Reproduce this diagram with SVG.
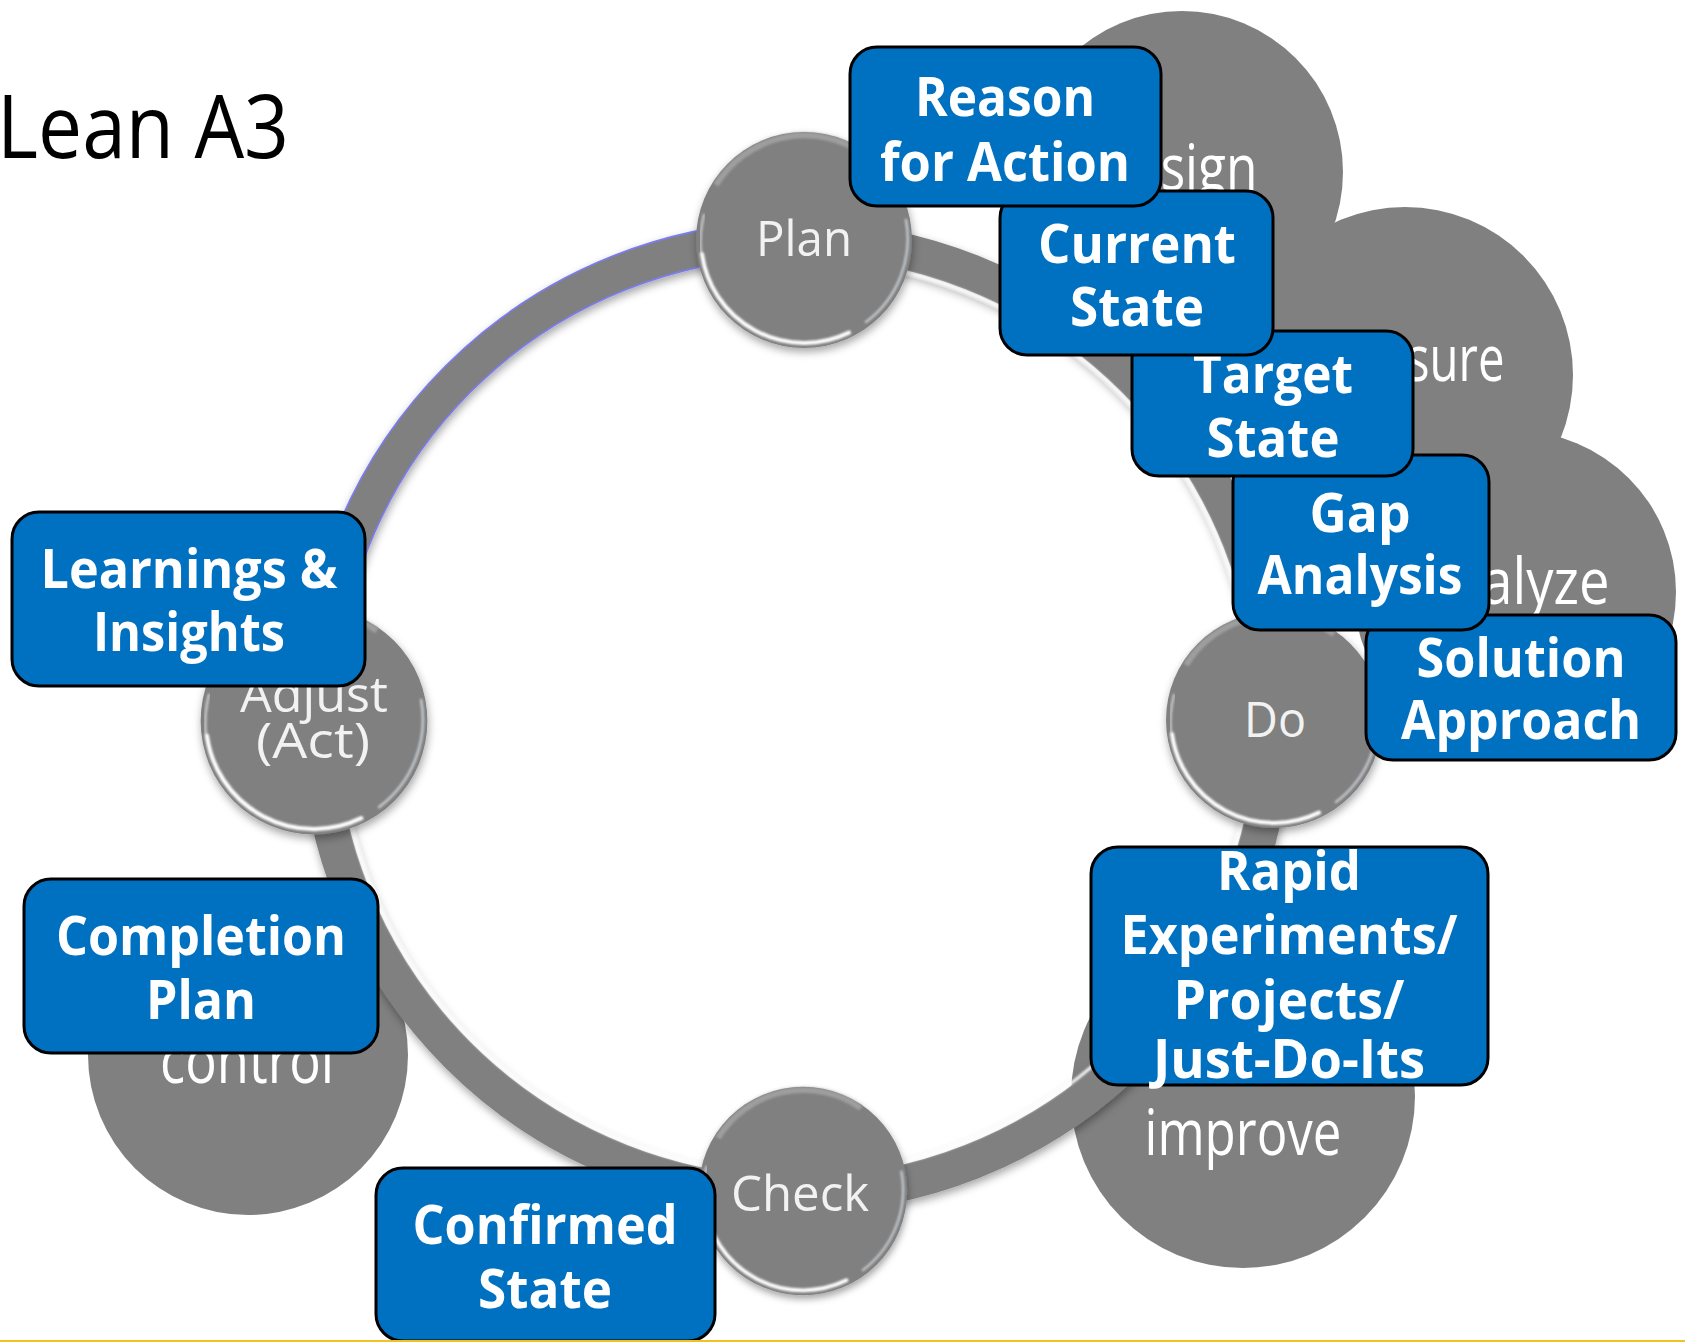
<svg xmlns="http://www.w3.org/2000/svg" width="1685" height="1342" viewBox="0 0 1685 1342">
  <defs>
    <style>
      .cloud { fill: #808080; }
      .cloud-text { font-family: "Open Sans", "Noto Sans", sans-serif; font-size: 64px; fill: #ffffff; text-anchor: middle; }
      .bead-text { font-family: "Open Sans", "Noto Sans", sans-serif; font-size: 49px; fill: #f2f2f2; text-anchor: middle; }
      .box { fill: #0070c0; stroke: #000000; stroke-width: 3; }
      .box-text { font-family: "Open Sans", "Noto Sans", sans-serif; font-weight: bold; font-size: 54px; fill: #ffffff; text-anchor: middle; }
      .title { font-family: "Open Sans", "Noto Sans", sans-serif; font-size: 88px; fill: #000000; }
      .ring { fill: none; stroke: #808080; stroke-width: 36; }
      .ring-hi { fill: none; stroke: #ffffff; stroke-width: 3; opacity: 0.9; }
      .ring-edge { fill: none; stroke: #7b7bf0; stroke-width: 1.6; }
    </style>
    <filter id="softShadow" x="-20%" y="-20%" width="140%" height="140%">
      <feDropShadow dx="1" dy="4" stdDeviation="4" flood-color="#000000" flood-opacity="0.35"/>
    </filter>
    <filter id="blur1" x="-10%" y="-10%" width="120%" height="120%">
      <feGaussianBlur stdDeviation="1"/>
    </filter>
    <!-- bevelled stage bead, radius 108 around the origin -->
    <g id="bead">
      <circle r="108" fill="#808080" filter="url(#softShadow)"/>
      <path d="M -88 -55 A 104 104 0 0 1 60 -86" fill="none" stroke="#a6a6a6" stroke-width="6" opacity="0.8" filter="url(#blur1)"/>
      <path d="M -100 -25 A 103 103 0 0 0 -103 12" fill="none" stroke="#ffffff" stroke-width="2.5" stroke-linecap="round" opacity="0.55" filter="url(#blur1)"/>
      <path d="M -102 14 A 103 103 0 0 0 45 92.6" fill="none" stroke="#ffffff" stroke-width="4" stroke-linecap="round" filter="url(#blur1)"/>
      <path d="M 62 82 A 104 104 0 0 0 102 -20" fill="none" stroke="#e6eef6" stroke-width="2.5" stroke-linecap="round" opacity="0.65" filter="url(#blur1)"/>
    </g>
  </defs>

  <rect width="1685" height="1342" fill="#ffffff"/>

  <!-- phase clouds behind the cycle -->
  <g id="cloud-design">
    <circle class="cloud" cx="1182" cy="172" r="161"/>
    <text class="cloud-text" x="1176" y="190" textLength="163" lengthAdjust="spacingAndGlyphs">Design</text>
  </g>
  <g id="cloud-measure">
    <circle class="cloud" cx="1405" cy="375" r="168"/>
    <text class="cloud-text" x="1408" y="381" textLength="193" lengthAdjust="spacingAndGlyphs">Measure</text>
  </g>
  <g id="cloud-analyze">
    <circle class="cloud" cx="1515" cy="592" r="161"/>
    <text class="cloud-text" x="1512" y="604" textLength="195" lengthAdjust="spacingAndGlyphs">Analyze</text>
  </g>
  <g id="cloud-improve">
    <circle class="cloud" cx="1243" cy="1096" r="172"/>
    <text class="cloud-text" x="1243" y="1155" textLength="197" lengthAdjust="spacingAndGlyphs">improve</text>
  </g>
  <g id="cloud-control">
    <circle class="cloud" cx="248" cy="1055" r="160"/>
    <text class="cloud-text" x="247" y="1083" textLength="174" lengthAdjust="spacingAndGlyphs">control</text>
  </g>

  <!-- the cycle ring joining the four stages -->
  <g id="connectors" filter="url(#softShadow)">
    <circle class="ring" cx="796" cy="717" r="478"/>
    <path class="ring-hi" d="M 796 259 A 458 458 0 1 1 338 717" filter="url(#blur1)"/>
    <path class="ring-edge" d="M 300 717 A 496 496 0 0 1 796 221"/>
    <path class="ring-edge" d="M 336 717 A 460 460 0 0 1 796 257"/>
  </g>

  <!-- stages -->
  <g id="stage-plan">
    <use href="#bead" transform="translate(804 240)"/>
    <text class="bead-text" x="804" y="256" textLength="96" lengthAdjust="spacingAndGlyphs">Plan</text>
  </g>
  <g id="stage-do">
    <use href="#bead" transform="translate(1274 720)"/>
    <text class="bead-text" x="1275" y="737" textLength="62" lengthAdjust="spacingAndGlyphs">Do</text>
  </g>
  <g id="stage-check">
    <use href="#bead" transform="translate(803 1191) scale(0.965)"/>
    <text class="bead-text" x="800" y="1211" textLength="138" lengthAdjust="spacingAndGlyphs">Check</text>
  </g>
  <g id="stage-adjust">
    <use href="#bead" transform="translate(314 721) scale(1.05)"/>
    <text class="bead-text" x="314" y="712" textLength="148" lengthAdjust="spacingAndGlyphs">Adjust</text>
    <text class="bead-text" x="313" y="758" textLength="114" lengthAdjust="spacingAndGlyphs">(Act)</text>
  </g>

  <!-- A3 sections, stacked so earlier steps sit on top -->
  <g id="box-solution-approach">
    <rect class="box" x="1366" y="615" width="310" height="145" rx="27"/>
    <text class="box-text" x="1521" y="677" textLength="209" lengthAdjust="spacingAndGlyphs">Solution</text>
    <text class="box-text" x="1521" y="739" textLength="240" lengthAdjust="spacingAndGlyphs">Approach</text>
  </g>
  <g id="box-gap-analysis">
    <rect class="box" x="1233" y="455" width="256" height="175" rx="27"/>
    <text class="box-text" x="1360" y="532" textLength="101" lengthAdjust="spacingAndGlyphs">Gap</text>
    <text class="box-text" x="1360" y="594" textLength="205" lengthAdjust="spacingAndGlyphs">Analysis</text>
  </g>
  <g id="box-target-state">
    <rect class="box" x="1132" y="331" width="281" height="145" rx="27"/>
    <text class="box-text" x="1273" y="393" textLength="160" lengthAdjust="spacingAndGlyphs">Target</text>
    <text class="box-text" x="1273" y="457" textLength="133" lengthAdjust="spacingAndGlyphs">State</text>
  </g>
  <g id="box-current-state">
    <rect class="box" x="1000" y="191" width="273" height="164" rx="27"/>
    <text class="box-text" x="1137" y="263" textLength="198" lengthAdjust="spacingAndGlyphs">Current</text>
    <text class="box-text" x="1137" y="326" textLength="134" lengthAdjust="spacingAndGlyphs">State</text>
  </g>
  <g id="box-reason-for-action">
    <rect class="box" x="850" y="47" width="311" height="159" rx="27"/>
    <text class="box-text" x="1005" y="116" textLength="180" lengthAdjust="spacingAndGlyphs">Reason</text>
    <text class="box-text" x="1005" y="181" textLength="250" lengthAdjust="spacingAndGlyphs">for Action</text>
  </g>
  <g id="box-rapid-experiments">
    <rect class="box" x="1091" y="847" width="397" height="238" rx="27"/>
    <text class="box-text" x="1289" y="890" textLength="144" lengthAdjust="spacingAndGlyphs">Rapid</text>
    <text class="box-text" x="1289" y="954" textLength="337" lengthAdjust="spacingAndGlyphs">Experiments/</text>
    <text class="box-text" x="1289" y="1019" textLength="231" lengthAdjust="spacingAndGlyphs">Projects/</text>
    <text class="box-text" x="1289" y="1078" textLength="272" lengthAdjust="spacingAndGlyphs">Just-Do-Its</text>
  </g>
  <g id="box-learnings-insights">
    <rect class="box" x="12" y="512" width="353" height="174" rx="27"/>
    <text class="box-text" x="189" y="588" textLength="297" lengthAdjust="spacingAndGlyphs">Learnings &amp;</text>
    <text class="box-text" x="189" y="651" textLength="192" lengthAdjust="spacingAndGlyphs">Insights</text>
  </g>
  <g id="box-completion-plan">
    <rect class="box" x="24" y="879" width="354" height="174" rx="27"/>
    <text class="box-text" x="201" y="955" textLength="290" lengthAdjust="spacingAndGlyphs">Completion</text>
    <text class="box-text" x="201" y="1019" textLength="110" lengthAdjust="spacingAndGlyphs">Plan</text>
  </g>
  <g id="box-confirmed-state">
    <rect class="box" x="376" y="1168" width="339" height="173" rx="27"/>
    <text class="box-text" x="545" y="1244" textLength="265" lengthAdjust="spacingAndGlyphs">Confirmed</text>
    <text class="box-text" x="545" y="1308" textLength="134" lengthAdjust="spacingAndGlyphs">State</text>
  </g>

  <!-- heading -->
  <text class="title" x="-3" y="158" textLength="292" lengthAdjust="spacingAndGlyphs">Lean A3</text>

  <!-- footer rule -->
  <rect x="0" y="1340" width="1685" height="2" fill="#f0c224"/>
</svg>
